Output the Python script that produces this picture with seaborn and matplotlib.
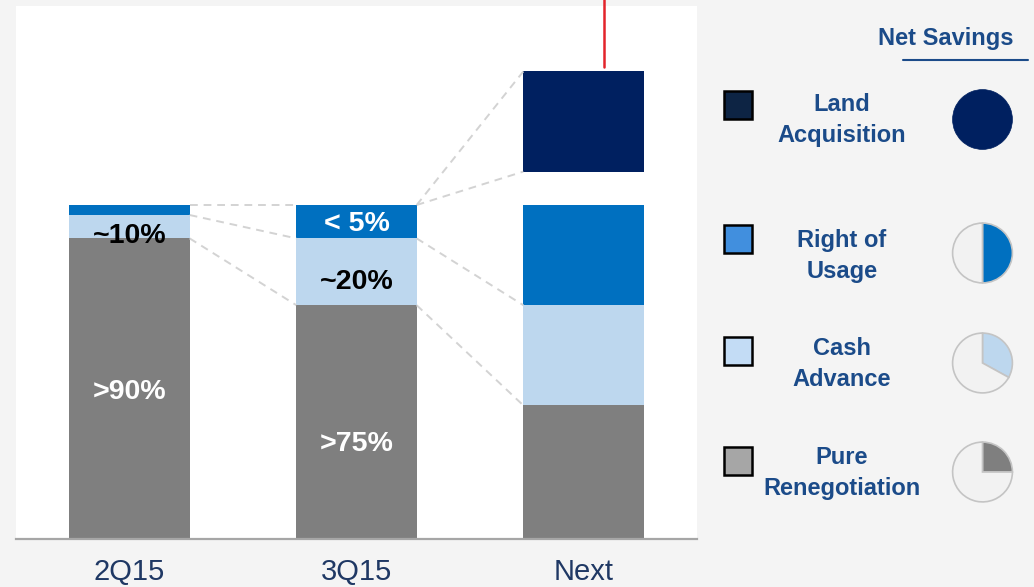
import matplotlib
matplotlib.use("Agg")
import matplotlib.pyplot as plt
from matplotlib.patches import Rectangle
from matplotlib.lines import Line2D
import seaborn as sns
import numpy as np

# ---------------- data ----------------
categories = ["2Q15", "3Q15", "Next"]
pure_renegotiation = [90, 70, 40]
cash_advance = [7, 20, 30]
right_of_usage = [3, 10, 30]
land_acquisition = [0, 0, 30]

seg_labels_pure = [">90%", ">75%", ""]
seg_labels_cash = ["~10%", "~20%", ""]
seg_labels_rou = ["", "< 5%", ""]

legend_names = ["Land\nAcquisition", "Right of\nUsage", "Cash\nAdvance", "Pure\nRenegotiation"]
net_savings_share = [1.0, 0.5, 0.33, 0.25]

# ---------------- style ----------------
sns.set_theme(style="white")
plt.rcParams["font.family"] = ["Liberation Sans", "DejaVu Sans"]

C_PURE = "#7f7f7f"
C_CASH = "#bdd7ee"
C_ROU = "#0070c0"
C_LAND = "#002060"
LEG_SQ = ["#0d2444", "#418fde", "#c3dcf5", "#a6a6a6"]
PIE_C = [C_LAND, C_ROU, C_CASH, C_PURE]
TXT_BLUE = "#1b4b89"
TICK_BLUE = "#1f3864"
DASH = "#d3d3d3"

W, H = 1034, 587
fig = plt.figure(figsize=(W / 100, H / 100), dpi=100, facecolor="#f4f4f4")
fx = lambda px: px / W
fy = lambda py: 1 - py / H

ax = fig.add_axes([fx(16), fy(539), 681 / W, 533 / H])
ax.set_facecolor("white")

pure = np.array(pure_renegotiation, float)
cash = np.array(cash_advance, float)
rou = np.array(right_of_usage, float)
land = np.array(land_acquisition, float)
lvl1 = pure
lvl2 = pure + cash
lvl3 = pure + cash + rou

BW = 0.53
for vals, col in [(lvl3, C_ROU), (lvl2, C_CASH), (lvl1, C_PURE)]:
    sns.barplot(x=categories, y=vals, order=categories, color=col, saturation=1,
                width=BW, linewidth=0, ax=ax)

# floating land acquisition block above the "Next" stack
gap = 10
for i, v in enumerate(land):
    if v > 0:
        ax.bar(i, v, bottom=lvl3[i] + gap, width=BW, color=C_LAND, linewidth=0)

# dashed connector lines
def connect(i, yl, yr):
    ax.plot([i + BW / 2, i + 1 - BW / 2], [yl, yr], ls=(0, (4, 3)), color=DASH, lw=1.4, zorder=1)

connect(0, lvl3[0], lvl3[1])
connect(0, lvl2[0], lvl2[1])
connect(0, lvl1[0], lvl1[1])
connect(1, lvl3[1], lvl3[2] + gap + land[2])
connect(1, lvl3[1], lvl3[2] + gap)
connect(1, lvl2[1], lvl2[2])
connect(1, lvl1[1], lvl1[2])

# segment labels
TS = 20.5
off_pure = [-1, -6.5, 0]
off_cash = [-2.7, -3, 0]
off_rou = [0, -0.6, 0]
for i in range(len(categories)):
    if seg_labels_pure[i]:
        ax.text(i, pure[i] / 2 + off_pure[i], seg_labels_pure[i], ha="center", va="center",
                color="white", fontsize=TS, fontweight="bold", zorder=5)
    if seg_labels_cash[i]:
        ax.text(i, lvl1[i] + cash[i] / 2 + off_cash[i], seg_labels_cash[i], ha="center", va="center",
                color="black", fontsize=TS, fontweight="bold", zorder=5)
    if seg_labels_rou[i]:
        ax.text(i, lvl2[i] + rou[i] / 2 + off_rou[i], seg_labels_rou[i], ha="center", va="center",
                color="white", fontsize=TS, fontweight="bold", zorder=5)

# red marker line above the land block
ax.plot([2.09, 2.09], [lvl3[2] + gap + land[2] + 1.2, 175], color="#e3242b", lw=1.8,
        clip_on=False, zorder=6)

ax.set_xlim(-0.5, 2.5)
ax.set_ylim(0, 533 / 3.34)
ax.set_xlabel("")
ax.set_ylabel("")
ax.set_yticks([])
for s in ["top", "right", "left"]:
    ax.spines[s].set_visible(False)
ax.spines["bottom"].set_color("#a6a6a6")
ax.spines["bottom"].set_linewidth(1.6)
ax.tick_params(axis="x", length=0, pad=14, labelsize=21, labelcolor=TICK_BLUE)

# ---------------- legend panel ----------------
fig.text(fx(946), fy(38), "Net Savings", ha="center", va="center", fontsize=17,
         fontweight="bold", color=TXT_BLUE)
fig.add_artist(Line2D([fx(903), fx(1028)], [fy(60), fy(60)], color=TXT_BLUE, lw=1.5))

sq_y = [105, 239, 351, 461]
lab_y = [120, 256, 364, 473]
pie_y = [119.5, 253, 363, 472]
for k in range(4):
    fig.add_artist(Rectangle((fx(724), fy(sq_y[k] + 14)), 28 / W, 28 / H,
                             facecolor=LEG_SQ[k], edgecolor="black", lw=1.8))
    fig.text(fx(842), fy(lab_y[k]), legend_names[k], ha="center", va="center",
             fontsize=17, fontweight="bold", color=TXT_BLUE, linespacing=1.4)
    pax = fig.add_axes([fx(982.5 - 32), fy(pie_y[k] + 32), 64 / W, 64 / H])
    f = net_savings_share[k]
    if f >= 1:
        pax.pie([1], colors=[PIE_C[k]], startangle=90,
                wedgeprops=dict(edgecolor=PIE_C[k], linewidth=0.5))
    else:
        pax.pie([f, 1 - f], colors=[PIE_C[k], "#f2f2f2"], startangle=90, counterclock=False,
                wedgeprops=dict(edgecolor="#c4c4c4", linewidth=1.2))
    pax.set_xlim(-1.07, 1.07)
    pax.set_ylim(-1.07, 1.07)
    pax.set_aspect("equal")
    pax.axis("off")

fig.savefig("out.png", dpi=100, facecolor=fig.get_facecolor())
